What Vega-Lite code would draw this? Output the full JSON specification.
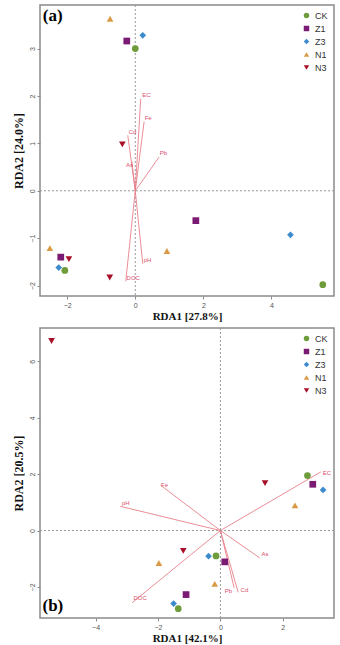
{
  "$schema": "https://vega.github.io/schema/vega-lite/v6.json",
  "padding": {"left": 11, "top": 3, "right": 0, "bottom": 0},
  "spacing": 4,
  "config": {
    "view": {"stroke": "#8a8a8a", "strokeWidth": 1.5},
    "axis": {
      "grid": false, "domain": false, "tickColor": "#8a8a8a", "tickSize": 3,
      "labelFontSize": 7, "labelColor": "#555", "labelFont": "Liberation Sans", "labelPadding": 2,
      "titleFont": "Liberation Serif", "titleFontWeight": "bold", "titleColor": "#111"
    },
    "legend": {
      "labelFont": "Liberation Sans", "labelFontSize": 9, "labelColor": "#333",
      "symbolSize": 30, "rowPadding": 3, "title": null, "padding": 4
    }
  },
  "datasets": {
    "ptsA": [
      {"g": "CK", "x": 0.0, "y": 3.0}, {"g": "CK", "x": -2.07, "y": -1.68}, {"g": "CK", "x": 5.51, "y": -1.98},
      {"g": "Z1", "x": -0.25, "y": 3.16}, {"g": "Z1", "x": 1.78, "y": -0.63}, {"g": "Z1", "x": -2.19, "y": -1.40},
      {"g": "Z3", "x": 0.22, "y": 3.28}, {"g": "Z3", "x": 4.56, "y": -0.93}, {"g": "Z3", "x": -2.25, "y": -1.62},
      {"g": "N1", "x": -0.74, "y": 3.63}, {"g": "N1", "x": 0.93, "y": -1.27}, {"g": "N1", "x": -2.51, "y": -1.21},
      {"g": "N3", "x": -0.38, "y": 0.98}, {"g": "N3", "x": -0.75, "y": -1.83}, {"g": "N3", "x": -1.95, "y": -1.44}
    ],
    "envA": [
      {"v": "EC", "x": 0.16, "y": 1.94, "lx": 0.33, "ly": 2.02},
      {"v": "Fe", "x": 0.26, "y": 1.46, "lx": 0.38, "ly": 1.53},
      {"v": "Cd", "x": -0.22, "y": 1.17, "lx": -0.08, "ly": 1.25},
      {"v": "Pb", "x": 0.70, "y": 0.71, "lx": 0.83, "ly": 0.79},
      {"v": "As", "x": -0.1, "y": 0.62, "lx": -0.17, "ly": 0.54},
      {"v": "pH", "x": 0.22, "y": -1.54, "lx": 0.36, "ly": -1.46},
      {"v": "DOC", "x": -0.28, "y": -1.91, "lx": -0.06, "ly": -1.84}
    ],
    "ptsB": [
      {"g": "CK", "x": 2.79, "y": 1.95}, {"g": "CK", "x": -0.14, "y": -0.90}, {"g": "CK", "x": -1.35, "y": -2.77},
      {"g": "Z1", "x": 2.96, "y": 1.64}, {"g": "Z1", "x": 0.14, "y": -1.11}, {"g": "Z1", "x": -1.10, "y": -2.27},
      {"g": "Z3", "x": 3.29, "y": 1.44}, {"g": "Z3", "x": -0.38, "y": -0.91}, {"g": "Z3", "x": -1.50, "y": -2.59},
      {"g": "N1", "x": 2.39, "y": 0.89}, {"g": "N1", "x": -1.97, "y": -1.15}, {"g": "N1", "x": -0.18, "y": -1.89},
      {"g": "N3", "x": -5.41, "y": 6.72}, {"g": "N3", "x": 1.43, "y": 1.68}, {"g": "N3", "x": -1.19, "y": -0.72}
    ],
    "envB": [
      {"v": "EC", "x": 3.22, "y": 2.08, "lx": 3.41, "ly": 2.04},
      {"v": "Fe", "x": -1.92, "y": 1.61, "lx": -1.79, "ly": 1.61},
      {"v": "pH", "x": -3.21, "y": 0.86, "lx": -3.03, "ly": 0.98},
      {"v": "As", "x": 1.26, "y": -0.97, "lx": 1.43, "ly": -0.82},
      {"v": "Pb", "x": 0.44, "y": -2.03, "lx": 0.26, "ly": -2.16},
      {"v": "Cd", "x": 0.57, "y": -2.19, "lx": 0.77, "ly": -2.09},
      {"v": "DOC", "x": -2.83, "y": -2.56, "lx": -2.57, "ly": -2.40}
    ],
    "tagA": [{"t": "(a)"}],
    "tagB": [{"t": "(b)"}]
  },
  "resolve": {"legend": {"color": "independent", "shape": "independent"}, "scale": {"x": "independent", "y": "independent"}},
  "vconcat": [
    {
      "width": 294, "height": 291,
      "layer": [
        {"data": {"values": [{}]}, "mark": {"type": "rule", "color": "#999", "strokeDash": [2, 2], "strokeWidth": 1}, "encoding": {"y": {"datum": 0, "type": "quantitative", "scale": {"domain": [-2.22, 3.92], "nice": false, "zero": false}}}},
        {"data": {"values": [{}]}, "mark": {"type": "rule", "color": "#999", "strokeDash": [2, 2], "strokeWidth": 1}, "encoding": {"x": {"datum": 0, "type": "quantitative", "scale": {"domain": [-2.8, 5.84], "nice": false, "zero": false}}}},
        {"data": {"name": "envA"}, "mark": {"type": "rule", "color": "#e8808a", "strokeWidth": 0.9},
          "encoding": {"x": {"field": "x", "type": "quantitative"}, "y": {"field": "y", "type": "quantitative"}, "x2": {"datum": 0}, "y2": {"datum": 0}}},
        {"data": {"name": "envA"}, "mark": {"type": "text", "color": "#d9506a", "fontSize": 6, "font": "Liberation Sans"},
          "encoding": {"x": {"field": "lx", "type": "quantitative"}, "y": {"field": "ly", "type": "quantitative"}, "text": {"field": "v"}}},
        {"data": {"name": "ptsA"}, "mark": {"type": "point", "filled": true, "opacity": 1, "size": 45},
          "encoding": {
            "x": {"field": "x", "type": "quantitative", "axis": {"values": [-2, 0, 2, 4], "title": "RDA1 [27.8%]", "titleFontSize": 11, "titlePadding": 2}},
            "y": {"field": "y", "type": "quantitative", "axis": {"values": [-2, -1, 0, 1, 2, 3], "labelAngle": -90, "labelAlign": "center", "labelBaseline": "bottom", "title": "RDA2 [24.0%]", "titleFontSize": 12, "titlePadding": 3}},
            "color": {"field": "g", "type": "nominal", "scale": {"domain": ["CK", "Z1", "Z3", "N1", "N3"], "range": ["#6e9c3a", "#7a1a72", "#3d8bcd", "#d99a46", "#a8102a"]}, "legend": {"orient": "top-right", "offset": 2}},
            "shape": {"field": "g", "type": "nominal", "scale": {"domain": ["CK", "Z1", "Z3", "N1", "N3"], "range": ["circle", "square", "diamond", "triangle-up", "triangle-down"]}}
          }},
        {"data": {"name": "tagA"}, "mark": {"type": "text", "font": "Liberation Serif", "fontWeight": "bold", "fontSize": 17, "align": "left", "baseline": "top", "color": "#000"},
          "encoding": {"text": {"field": "t"}, "x": {"datum": -2.72, "type": "quantitative"}, "y": {"datum": 3.86, "type": "quantitative"}}}
      ]
    },
    {
      "width": 294, "height": 290,
      "layer": [
        {"data": {"values": [{}]}, "mark": {"type": "rule", "color": "#999", "strokeDash": [2, 2], "strokeWidth": 1}, "encoding": {"y": {"datum": 0, "type": "quantitative", "scale": {"domain": [-3.1, 7.18], "nice": false, "zero": false}}}},
        {"data": {"values": [{}]}, "mark": {"type": "rule", "color": "#999", "strokeDash": [2, 2], "strokeWidth": 1}, "encoding": {"x": {"datum": 0, "type": "quantitative", "scale": {"domain": [-5.78, 3.64], "nice": false, "zero": false}}}},
        {"data": {"name": "envB"}, "mark": {"type": "rule", "color": "#e8808a", "strokeWidth": 0.9},
          "encoding": {"x": {"field": "x", "type": "quantitative"}, "y": {"field": "y", "type": "quantitative"}, "x2": {"datum": 0}, "y2": {"datum": 0}}},
        {"data": {"name": "envB"}, "mark": {"type": "text", "color": "#d9506a", "fontSize": 6, "font": "Liberation Sans"},
          "encoding": {"x": {"field": "lx", "type": "quantitative"}, "y": {"field": "ly", "type": "quantitative"}, "text": {"field": "v"}}},
        {"data": {"name": "ptsB"}, "mark": {"type": "point", "filled": true, "opacity": 1, "size": 45},
          "encoding": {
            "x": {"field": "x", "type": "quantitative", "axis": {"values": [-4, -2, 0, 2], "title": "RDA1 [42.1%]", "titleFontSize": 11, "titlePadding": 2}},
            "y": {"field": "y", "type": "quantitative", "axis": {"values": [-2, 0, 2, 4, 6], "labelAngle": -90, "labelAlign": "center", "labelBaseline": "bottom", "title": "RDA2 [20.5%]", "titleFontSize": 12, "titlePadding": 3}},
            "color": {"field": "g", "type": "nominal", "scale": {"domain": ["CK", "Z1", "Z3", "N1", "N3"], "range": ["#6e9c3a", "#7a1a72", "#3d8bcd", "#d99a46", "#a8102a"]}, "legend": {"orient": "top-right", "offset": 2}},
            "shape": {"field": "g", "type": "nominal", "scale": {"domain": ["CK", "Z1", "Z3", "N1", "N3"], "range": ["circle", "square", "diamond", "triangle-up", "triangle-down"]}}
          }},
        {"data": {"name": "tagB"}, "mark": {"type": "text", "font": "Liberation Serif", "fontWeight": "bold", "fontSize": 17, "align": "left", "baseline": "bottom", "color": "#000"},
          "encoding": {"text": {"field": "t"}, "x": {"datum": -5.7, "type": "quantitative"}, "y": {"datum": -3.0, "type": "quantitative"}}}
      ]
    }
  ]
}
